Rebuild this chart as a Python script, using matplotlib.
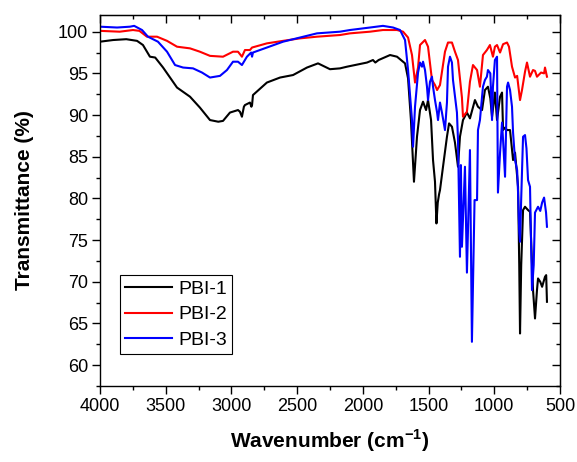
import matplotlib
matplotlib.use("Agg")
import matplotlib.pyplot as plt
from matplotlib.ticker import MultipleLocator

plt.rcParams['font.family'] = ['Liberation Sans', 'DejaVu Sans']
plt.rcParams['mathtext.fontset'] = 'custom'
plt.rcParams['mathtext.rm'] = 'Liberation Sans'
plt.rcParams['mathtext.bf'] = 'Liberation Sans:bold'

# FTIR spectra: wavenumber (cm-1) and transmittance (%)
wn_1 = [4000, 3900, 3800, 3718, 3673, 3620, 3580, 3520, 3414, 3315, 3240, 3163, 3100, 3064,
        3011, 2950, 2935, 2920, 2905, 2897, 2859, 2848, 2843, 2836, 2730, 2630, 2531, 2425,
        2341, 2250, 2174, 2121, 1968, 1923, 1905, 1880, 1793, 1740, 1702, 1679, 1656, 1634,
        1611, 1588, 1565, 1542, 1519, 1504, 1481, 1466, 1451, 1440, 1430, 1420, 1413, 1390,
        1360, 1344, 1322, 1299, 1276, 1261, 1238, 1208, 1185, 1147, 1124, 1093, 1071, 1048,
        1030, 1017, 995, 979, 956, 941, 933, 918, 903, 880, 857, 842, 819, 810, 804, 795,
        781, 766, 743, 728, 705, 690, 675, 667, 650, 636, 614, 605, 599]
t_1 = [98.8, 99.0, 99.1, 98.9, 98.4, 97.0, 96.9, 95.7, 93.3, 92.2, 90.9, 89.4, 89.2, 89.3,
       90.3, 90.6, 90.4, 89.8, 91.0, 91.2, 91.5, 91.0, 91.2, 92.4, 93.9, 94.5, 94.8, 95.7,
       96.2, 95.5, 95.6, 95.8, 96.3, 96.6, 96.3, 96.6, 97.2, 97.0, 96.5, 96.2, 94.4, 89.4,
       82.0, 87.4, 90.6, 91.6, 90.6, 91.8, 89.4, 84.6, 82.0, 77.0, 79.5, 80.5, 81.0, 83.8,
       87.4, 89.0, 88.6, 86.7, 83.8, 87.4, 89.4, 90.3, 89.6, 91.8, 91.0, 90.6, 93.0, 93.4,
       92.0, 89.8, 92.7, 89.4, 92.2, 92.7, 88.2, 88.5, 88.2, 88.2, 84.6, 85.5, 81.4, 72.0,
       63.8, 72.0, 78.6, 79.0, 78.6, 78.4, 69.0, 65.6, 69.0, 70.4, 70.0, 69.4, 70.6, 70.8, 67.6]

wn_2 = [4000, 3850, 3749, 3700, 3643, 3566, 3490, 3414, 3315, 3240, 3163, 3064, 2988, 2950,
        2920, 2897, 2859, 2843, 2730, 2607, 2478, 2349, 2174, 2098, 1946, 1847, 1740, 1694,
        1656, 1626, 1603, 1580, 1565, 1527, 1504, 1474, 1451, 1435, 1413, 1375, 1352, 1322,
        1299, 1276, 1246, 1238, 1208, 1185, 1162, 1131, 1109, 1086, 1056, 1033, 1010, 995,
        979, 956, 933, 903, 888, 865, 842, 826, 804, 789, 766, 751, 728, 705, 690, 675, 644,
        621, 614, 599]
t_2 = [100.1, 100.0, 100.2, 100.1, 99.4, 99.4, 98.9, 98.2, 98.0, 97.6, 97.1, 97.0, 97.6, 97.6,
       97.0, 97.8, 97.8, 98.1, 98.6, 98.9, 99.2, 99.4, 99.6, 99.8, 100.0, 100.2, 100.2, 100.0,
       99.3, 97.2, 93.9, 95.7, 98.4, 99.0, 98.2, 94.2, 93.6, 93.0, 93.6, 97.6, 98.7, 98.7,
       97.6, 96.6, 92.1, 89.8, 90.4, 94.0, 96.0, 95.4, 93.4, 97.2, 97.8, 98.4, 97.0, 98.2,
       98.4, 97.5, 98.5, 98.7, 98.2, 95.8, 94.5, 94.7, 91.8, 93.0, 95.2, 96.3, 94.6, 95.4,
       95.3, 94.6, 95.1, 95.0, 95.7, 94.6]

wn_3 = [4000, 3870, 3772, 3740, 3680, 3635, 3559, 3490, 3429, 3368, 3292, 3224, 3163, 3087,
        3034, 2988, 2950, 2920, 2882, 2850, 2843, 2836, 2730, 2607, 2478, 2349, 2174, 2098,
        1946, 1847, 1770, 1717, 1679, 1656, 1626, 1618, 1603, 1580, 1565, 1550, 1542, 1527,
        1512, 1504, 1489, 1474, 1466, 1451, 1435, 1428, 1413, 1398, 1375, 1360, 1352, 1337,
        1322, 1314, 1284, 1276, 1261, 1254, 1246, 1223, 1208, 1185, 1170, 1150, 1131, 1124,
        1109, 1093, 1086, 1071, 1056, 1048, 1030, 1017, 1010, 995, 979, 972, 956, 941, 933,
        918, 903, 895, 880, 865, 857, 842, 826, 819, 810, 804, 795, 781, 766, 755, 743, 728,
        713, 700, 690, 667, 650, 636, 621, 606, 599]
t_3 = [100.6, 100.5, 100.6, 100.7, 100.2, 99.4, 98.8, 97.6, 96.0, 95.7, 95.6, 95.1, 94.5, 94.7,
       95.4, 96.4, 96.4, 96.0, 97.0, 97.5, 97.0, 97.5, 98.1, 98.8, 99.3, 99.8, 100.0, 100.2,
       100.5, 100.7, 100.5, 100.2, 99.0, 95.4, 89.4, 86.2, 91.0, 95.1, 96.3, 95.8, 96.4, 95.4,
       93.4, 91.8, 94.0, 94.6, 93.4, 91.8, 90.3, 89.4, 91.5, 90.3, 88.2, 91.5, 95.8, 97.0,
       96.3, 94.2, 90.3, 87.0, 73.0, 84.0, 74.2, 83.8, 71.1, 85.8, 62.8, 79.8, 79.8, 88.2,
       89.4, 92.2, 93.4, 94.2, 94.6, 95.4, 95.0, 89.4, 93.4, 96.6, 97.0, 80.7, 85.5, 89.1, 87.0,
       82.6, 93.4, 93.9, 93.0, 91.0, 87.9, 84.6, 83.4, 80.7, 76.0, 74.8, 80.0, 87.4, 87.6, 86.0,
       82.2, 81.4, 69.0, 72.0, 78.3, 79.0, 78.5, 79.5, 80.1, 78.3, 76.6]

labels = ['PBI-1', 'PBI-2', 'PBI-3']
colors = ['black', 'red', 'blue']

fig = plt.figure(figsize=(5.77, 4.62), dpi=100)
ax = fig.add_axes([0.1733, 0.1645, 0.7972, 0.803])

for wn, t, lab, c in zip([wn_1, wn_2, wn_3], [t_1, t_2, t_3], labels, colors):
    ax.plot(wn, t, color=c, lw=1.5, label=lab)

ax.set_xlim(4000, 500)
ax.set_ylim(57.5, 102)
ax.xaxis.set_major_locator(MultipleLocator(500))
ax.xaxis.set_minor_locator(MultipleLocator(250))
ax.yaxis.set_major_locator(MultipleLocator(5))
ax.yaxis.set_minor_locator(MultipleLocator(2.5))
ax.tick_params(which='both', direction='out', labelsize=13, width=1, pad=3)
ax.tick_params(which='major', length=5.5)
ax.tick_params(which='minor', length=3)
for s in ax.spines.values():
    s.set_linewidth(1)

# mirrored ticks pointing inward on top and right, Origin style
top = ax.secondary_xaxis('top')
top.xaxis.set_major_locator(MultipleLocator(500))
top.xaxis.set_minor_locator(MultipleLocator(250))
top.tick_params(which='both', direction='in', labeltop=False, width=1)
top.tick_params(which='major', length=5.5)
top.tick_params(which='minor', length=3)
right = ax.secondary_yaxis('right')
right.yaxis.set_major_locator(MultipleLocator(5))
right.yaxis.set_minor_locator(MultipleLocator(2.5))
right.tick_params(which='both', direction='in', labelright=False, width=1)
right.tick_params(which='major', length=5.5)
right.tick_params(which='minor', length=3)

ax.set_xlabel('Wavenumber (cm$^{\\mathbf{-1}}$)', fontsize=15, fontweight='bold', labelpad=9)
ax.set_ylabel('Transmittance (%)', fontsize=15, fontweight='bold', labelpad=17)

leg = ax.legend(loc='lower left', bbox_to_anchor=(0.0435, 0.086), borderaxespad=0,
                fontsize=14, fancybox=False, edgecolor='black', framealpha=1,
                handlelength=2.4, handletextpad=0.36, borderpad=0.25, labelspacing=0.42)
leg.get_frame().set_linewidth(0.8)

fig.savefig('out.png', dpi=100)
